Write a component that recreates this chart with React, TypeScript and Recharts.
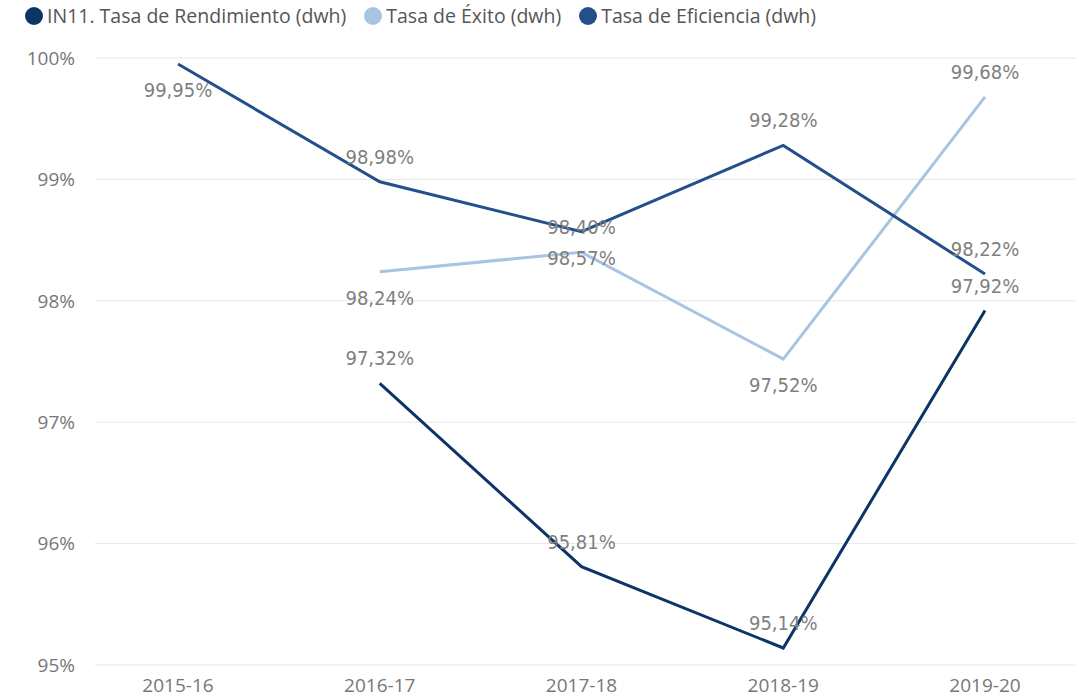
import React from 'react';
import { LineChart, Line, XAxis, YAxis, CartesianGrid, LabelList } from 'recharts';

const categories = ['2015-16', '2016-17', '2017-18', '2018-19', '2019-20'];
const rendimiento: (number | null)[] = [null, 97.32, 95.81, 95.14, 97.92];
const exito: (number | null)[] = [null, 98.24, 98.40, 97.52, 99.68];
const eficiencia: (number | null)[] = [99.95, 98.98, 98.57, 99.28, 98.22];
const yTicks = [95, 96, 97, 98, 99, 100];

const rendimientoLabelPos = ['above', 'above', 'above', 'above', 'above'];
const exitoLabelPos = ['above', 'below', 'above', 'below', 'above'];
const eficienciaLabelPos = ['below', 'above', 'below', 'above', 'above'];

const seriesNames = ['IN11. Tasa de Rendimiento (dwh)', 'Tasa de Éxito (dwh)', 'Tasa de Eficiencia (dwh)'];
const colors = ['#0d3467', '#a7c5e3', '#23508a'];

const data = categories.map((c, i) => ({
  cat: c,
  rendimiento: rendimiento[i],
  exito: exito[i],
  eficiencia: eficiencia[i],
}));

const fmt = (v: number) => v.toFixed(2).replace('.', ',') + '%';

const makeLabel = (positions: string[]) => (props: any) => {
  const { x, y, value, index } = props;
  if (value == null) return null;
  const pos = positions[index];
  const dy = pos === 'above' ? -25 : 26;
  return (
    <text
      x={x}
      y={y + dy}
      textAnchor="middle"
      dominantBaseline="central"
      fill="#7f7f7f"
      fontSize={20}
      fontFamily="'DejaVu Sans Condensed', Roboto, sans-serif"
    >
      {fmt(value)}
    </text>
  );
};

const LegendBox = () => (
  <div
    style={{
      position: 'absolute',
      left: 25,
      top: 4,
      display: 'flex',
      alignItems: 'center',
      fontFamily: "'Open Sans', sans-serif",
      fontSize: 19.5,
      color: '#555',
      whiteSpace: 'nowrap',
      lineHeight: '24px',
    }}
  >
    {seriesNames.map((n, i) => (
      <div key={n} style={{ display: 'flex', alignItems: 'center', marginRight: 18 }}>
        <span style={{ display: 'inline-block', width: 18, height: 18, borderRadius: '50%', background: colors[i], marginRight: 4 }} />
        <span>{n}</span>
      </div>
    ))}
  </div>
);

export default function App() {
  return (
    <div style={{ position: 'absolute', left: 0, top: 0, width: 1079, height: 698, background: '#fff' }}>
      <LineChart width={1079} height={698} data={data} margin={{ top: 58, right: 4, bottom: 0, left: 0 }}>
        <CartesianGrid vertical={false} stroke="#e6e6e6" strokeWidth={1} />
        <XAxis
          dataKey="cat"
          axisLine={false}
          tickLine={false}
          tickSize={0}
          padding={{ left: 83, right: 90 }}
          tick={{ fill: '#777', fontSize: 19, fontFamily: "'Open Sans', sans-serif" }}
          tickMargin={14}
          height={33}
          interval={0}
        />
        <YAxis
          domain={[95, 100]}
          ticks={yTicks}
          axisLine={false}
          tickLine={false}
          tickSize={0}
          tickMargin={20}
          width={95}
          tickFormatter={(v: number) => `${v}%`}
          tick={{ fill: '#777', fontSize: 19, fontFamily: "'Open Sans', sans-serif" }}
        />
        <Line dataKey="rendimiento" name={seriesNames[0]} stroke={colors[0]} strokeWidth={3} dot={false} isAnimationActive={false}>
          <LabelList dataKey="rendimiento" content={makeLabel(rendimientoLabelPos)} />
        </Line>
        <Line dataKey="exito" name={seriesNames[1]} stroke={colors[1]} strokeWidth={3} dot={false} isAnimationActive={false}>
          <LabelList dataKey="exito" content={makeLabel(exitoLabelPos)} />
        </Line>
        <Line dataKey="eficiencia" name={seriesNames[2]} stroke={colors[2]} strokeWidth={3} dot={false} isAnimationActive={false}>
          <LabelList dataKey="eficiencia" content={makeLabel(eficienciaLabelPos)} />
        </Line>
      </LineChart>
      <LegendBox />
    </div>
  );
}
